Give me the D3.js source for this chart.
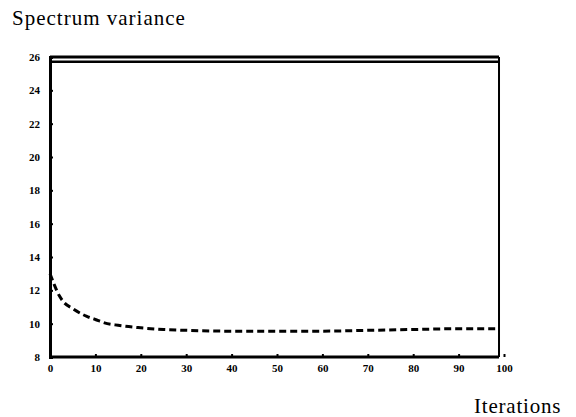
<!DOCTYPE html>
<html>
<head>
<meta charset="utf-8">
<script src="https://cdn.jsdelivr.net/npm/d3@7"></script>
<style>
  body { margin: 0; background: #fff; }
  svg { display: block; }
</style>
</head>
<body>
<div id="wrapper"></div>
<script>
const iterations = [0, 1, 2, 3, 5, 8, 10, 12, 15, 20, 25, 30, 40, 50, 60, 70, 80, 90, 100];
const variance = [13.0, 12.3, 11.7, 11.3, 10.9, 10.45, 10.25, 10.05, 9.9, 9.75, 9.65, 9.6, 9.55, 9.55, 9.55, 9.6, 9.65, 9.7, 9.7];
const upperIterations = [0, 100];
const upperVariance = [25.72, 25.72];
const yTicks = [8, 10, 12, 14, 16, 18, 20, 22, 24, 26];
const xTicks = [0, 10, 20, 30, 40, 50, 60, 70, 80, 90, 100];

const dimensions = {
  width: 576,
  height: 417,
  margin: { top: 57, right: 78, bottom: 60, left: 50 },
}
dimensions.boundedWidth = dimensions.width - dimensions.margin.left - dimensions.margin.right;
dimensions.boundedHeight = dimensions.height - dimensions.margin.top - dimensions.margin.bottom;

const wrapper = d3.select("#wrapper")
  .append("svg")
    .attr("width", dimensions.width)
    .attr("height", dimensions.height)

const bounds = wrapper.append("g")
  .attr("transform", `translate(${dimensions.margin.left}, ${dimensions.margin.top})`)

const xScale = d3.scaleLinear()
  .domain([0, 100])
  .range([0, 454]);

const yScale = d3.scaleLinear()
  .domain([8, 26])
  .range([dimensions.boundedHeight, 0]);

const frameRight = xScale(98.9);

// frame: top and right sides
bounds.append("line")
  .attr("x1", 0).attr("x2", frameRight)
  .attr("y1", 0).attr("y2", 0)
  .attr("stroke", "black").attr("stroke-width", 3)
bounds.append("line")
  .attr("x1", frameRight).attr("x2", frameRight)
  .attr("y1", 0).attr("y2", dimensions.boundedHeight)
  .attr("stroke", "black").attr("stroke-width", 2)

// series
const upperLine = d3.line()
  .x((d, i) => Math.min(xScale(upperIterations[i]), frameRight))
  .y(d => yScale(d));
bounds.append("path")
  .attr("d", upperLine(upperVariance))
  .attr("fill", "none")
  .attr("stroke", "black")
  .attr("stroke-width", 2.5)

const varLine = d3.line()
  .x((d, i) => Math.min(xScale(iterations[i]), frameRight - 2))
  .y(d => yScale(d))
  .curve(d3.curveMonotoneX);
bounds.append("path")
  .attr("d", varLine(variance))
  .attr("fill", "none")
  .attr("stroke", "black")
  .attr("stroke-width", 3)
  .attr("stroke-dasharray", "7,4")

// axes
const yAxis = bounds.append("g")
  .call(d3.axisLeft(yScale).tickValues(yTicks).tickSize(-3).tickPadding(10))
yAxis.select(".domain").attr("stroke-width", 3)
yAxis.selectAll(".tick line").attr("stroke-width", 2)
yAxis.selectAll(".tick text")
  .style("font-family", "'Liberation Serif', serif")
  .style("font-weight", "bold")
  .style("font-size", "11px")

const xAxis = bounds.append("g")
  .attr("transform", `translate(0, ${dimensions.boundedHeight})`)
  .call(d3.axisBottom(xScale).tickValues(xTicks).tickSize(-3).tickPadding(7))
xAxis.select(".domain")
  .attr("stroke-width", 3)
  .attr("d", `M0,0H${frameRight}`)
xAxis.selectAll(".tick line").attr("stroke-width", 2)
xAxis.selectAll(".tick text")
  .style("font-family", "'Liberation Serif', serif")
  .style("font-weight", "bold")
  .style("font-size", "11px")

// labels
wrapper.append("text")
  .attr("x", 12)
  .attr("y", 25)
  .style("font-family", "'Liberation Serif', serif")
  .style("font-size", "21px")
  .style("letter-spacing", "1px")
  .text("Spectrum variance")

wrapper.append("text")
  .attr("x", 474)
  .attr("y", 413)
  .style("font-family", "'Liberation Serif', serif")
  .style("font-size", "21px")
  .style("letter-spacing", "0.8px")
  .text("Iterations")
</script>
</body>
</html>
